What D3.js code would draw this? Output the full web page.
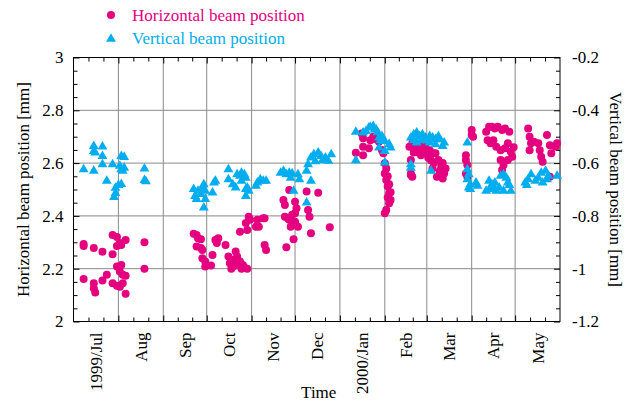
<!DOCTYPE html>
<html>
<head>
<meta charset="utf-8">
<script src="https://cdn.jsdelivr.net/npm/d3@7"></script>
<style>
  html, body { margin: 0; padding: 0; background: #fff; }
  svg { display: block; font-family: "Liberation Serif", "Times New Roman", serif; }
</style>
</head>
<body>
<svg id="chart" width="634" height="405"></svg>
<script>
// Horizontal beam position [mm], left axis: [date, value]
const horizontal = [
  ["1999-07-08",2.294],["1999-07-08",2.286],["1999-07-08",2.161],["1999-07-15",2.278],["1999-07-15",2.145],
  ["1999-07-15",2.126],["1999-07-16",2.110],["1999-07-21",2.264],["1999-07-21",2.155],["1999-07-24",2.177],
  ["1999-07-28",2.328],["1999-07-28",2.255],["1999-07-28",2.145],["1999-07-31",2.320],["1999-07-31",2.286],
  ["1999-07-31",2.208],["1999-07-31",2.135],["1999-08-02",2.297],["1999-08-02",2.189],["1999-08-02",2.132],
  ["1999-08-03",2.290],["1999-08-03",2.214],["1999-08-04",2.177],["1999-08-04",2.145],["1999-08-06",2.309],
  ["1999-08-06",2.173],["1999-08-06",2.105],["1999-08-19",2.300],["1999-08-19",2.200],
  ["1999-09-22",2.332],["1999-09-24",2.328],["1999-09-24",2.284],["1999-09-25",2.315],["1999-09-27",2.312],
  ["1999-09-27",2.278],["1999-09-28",2.271],["1999-09-28",2.240],["1999-09-30",2.227],["1999-09-30",2.208],
  ["1999-10-04",2.212],["1999-10-05",2.252],["1999-10-07",2.309],["1999-10-08",2.297],["1999-10-09",2.315],
  ["1999-10-14",2.290],["1999-10-16",2.246],["1999-10-17",2.221],["1999-10-18",2.200],["1999-10-19",2.233],
  ["1999-10-20",2.210],["1999-10-21",2.265],["1999-10-22",2.246],["1999-10-23",2.221],["1999-10-24",2.227],
  ["1999-10-24",2.340],["1999-10-25",2.200],["1999-10-26",2.214],["1999-10-27",2.205],["1999-10-28",2.373],
  ["1999-10-29",2.347],["1999-10-29",2.200],["1999-10-30",2.397],["1999-10-31",2.385],
  ["1999-11-04",2.359],["1999-11-05",2.385],["1999-11-06",2.359],["1999-11-09",2.391],["1999-11-10",2.391],
  ["1999-11-10",2.290],["1999-11-11",2.271],["1999-11-23",2.460],["1999-11-24",2.441],["1999-11-24",2.397],
  ["1999-11-25",2.281],["1999-11-26",2.391],["1999-11-27",2.385],["1999-11-27",2.498],["1999-11-28",2.359],
  ["1999-11-29",2.404],["1999-11-30",2.312],["1999-12-01",2.454],["1999-12-01",2.410],["1999-12-01",2.378],
  ["1999-12-02",2.429],["1999-12-03",2.359],["1999-12-09",2.492],["1999-12-10",2.422],["1999-12-11",2.397],
  ["1999-12-12",2.334],["1999-12-17",2.488],["1999-12-25",2.357],
  ["2000-01-12",2.639],["2000-01-16",2.712],["2000-01-17",2.694],["2000-01-17",2.662],["2000-01-17",2.630],
  ["2000-01-21",2.656],["2000-01-22",2.687],["2000-01-24",2.700],["2000-01-26",2.690],["2000-01-28",2.681],
  ["2000-01-30",2.650],["2000-01-31",2.637],["2000-02-01",2.599],["2000-02-01",2.561],["2000-02-02",2.536],
  ["2000-02-03",2.511],["2000-02-04",2.486],["2000-02-05",2.460],["2000-02-04",2.448],["2000-02-02",2.422],
  ["2000-02-01",2.410],["2000-02-02",2.580],["2000-02-03",2.550],["2000-02-04",2.520],["2000-02-05",2.490],
  ["2000-02-03",2.470],
  ["2000-02-18",2.662],["2000-02-19",2.612],["2000-02-19",2.561],["2000-02-19",2.555],["2000-02-20",2.675],
  ["2000-02-20",2.548],["2000-02-21",2.640],["2000-02-22",2.650],["2000-02-23",2.662],["2000-02-24",2.640],
  ["2000-02-25",2.668],["2000-02-26",2.630],["2000-02-27",2.649],["2000-02-28",2.640],["2000-02-29",2.662],
  ["2000-03-02",2.620],["2000-03-03",2.649],["2000-03-04",2.610],["2000-03-05",2.637],["2000-03-05",2.580],
  ["2000-03-06",2.600],["2000-03-07",2.637],["2000-03-08",2.548],["2000-03-09",2.612],["2000-03-10",2.570],
  ["2000-03-11",2.586],["2000-03-12",2.542],["2000-03-12",2.600],["2000-03-13",2.561],["2000-03-14",2.580],
  ["2000-03-28",2.630],["2000-03-28",2.612],["2000-03-29",2.593],["2000-03-28",2.561],["2000-03-29",2.548],
  ["2000-04-01",2.725],["2000-04-01",2.706],["2000-04-02",2.700],["2000-04-11",2.719],["2000-04-12",2.687],
  ["2000-04-13",2.738],["2000-04-14",2.675],["2000-04-15",2.738],["2000-04-16",2.687],["2000-04-17",2.731],
  ["2000-04-18",2.662],["2000-04-19",2.738],["2000-04-21",2.649],["2000-04-21",2.612],["2000-04-22",2.725],
  ["2000-04-23",2.593],["2000-04-22",2.574],["2000-04-24",2.656],["2000-04-24",2.731],["2000-04-26",2.675],
  ["2000-04-26",2.612],["2000-04-27",2.719],["2000-04-28",2.643],["2000-04-29",2.624],["2000-04-30",2.660],
  ["2000-05-10",2.731],["2000-05-11",2.700],["2000-05-12",2.675],["2000-05-11",2.649],["2000-05-14",2.681],
  ["2000-05-17",2.675],["2000-05-18",2.649],["2000-05-19",2.624],["2000-05-20",2.605],["2000-05-23",2.706],
  ["2000-05-25",2.668],["2000-05-26",2.637],["2000-05-25",2.548],["2000-05-29",2.662],["2000-05-30",2.675]
];

// Vertical beam position [mm], right axis: [date, value]
const vertical = [
  ["1999-07-08",-0.620],["1999-07-15",-0.626],["1999-07-15",-0.532],["1999-07-15",-0.551],["1999-07-16",-0.557],
  ["1999-07-21",-0.534],["1999-07-21",-0.570],["1999-07-21",-0.601],["1999-07-24",-0.664],["1999-07-28",-0.601],
  ["1999-07-29",-0.725],["1999-07-30",-0.710],["1999-07-30",-0.690],["1999-08-01",-0.680],["1999-08-03",-0.676],
  ["1999-08-03",-0.570],["1999-08-05",-0.574],["1999-08-03",-0.620],["1999-08-04",-0.626],["1999-08-05",-0.614],
  ["1999-08-02",-0.607],["1999-08-19",-0.617],["1999-08-19",-0.661],["1999-08-20",-0.666],
  ["1999-09-22",-0.695],["1999-09-23",-0.721],["1999-09-24",-0.733],["1999-09-25",-0.702],["1999-09-27",-0.714],
  ["1999-09-28",-0.689],["1999-09-29",-0.677],["1999-09-30",-0.702],["1999-09-30",-0.733],["1999-09-29",-0.765],
  ["1999-10-05",-0.708],["1999-10-06",-0.670],["1999-10-07",-0.664],["1999-10-16",-0.620],["1999-10-16",-0.658],
  ["1999-10-19",-0.677],["1999-10-21",-0.689],["1999-10-22",-0.639],["1999-10-24",-0.645],["1999-10-25",-0.664],
  ["1999-10-25",-0.633],["1999-10-27",-0.639],["1999-10-28",-0.695],["1999-10-28",-0.652],["1999-10-29",-0.689],
  ["1999-10-30",-0.702],["1999-10-28",-0.721],
  ["1999-11-04",-0.683],["1999-11-05",-0.670],["1999-11-07",-0.658],["1999-11-09",-0.664],["1999-11-11",-0.664],
  ["1999-11-21",-0.633],["1999-11-23",-0.626],["1999-11-25",-0.639],["1999-11-27",-0.633],["1999-11-28",-0.652],
  ["1999-11-29",-0.635],["1999-11-30",-0.702],["1999-12-03",-0.639],["1999-12-04",-0.658],
  ["1999-12-09",-0.626],["1999-12-09",-0.746],["1999-12-10",-0.601],["1999-12-12",-0.576],["1999-12-12",-0.664],
  ["1999-12-14",-0.563],["1999-12-15",-0.590],["1999-12-17",-0.557],["1999-12-19",-0.570],["1999-12-20",-0.585],
  ["1999-12-22",-0.576],["1999-12-24",-0.588],["1999-12-26",-0.563],
  ["2000-01-12",-0.478],["2000-01-12",-0.586],["2000-01-17",-0.481],["2000-01-19",-0.475],["2000-01-21",-0.462],
  ["2000-01-22",-0.460],["2000-01-24",-0.456],["2000-01-25",-0.470],["2000-01-26",-0.469],["2000-01-27",-0.480],
  ["2000-01-28",-0.500],["2000-01-28",-0.538],["2000-01-29",-0.510],["2000-01-30",-0.494],["2000-02-01",-0.513],
  ["2000-02-01",-0.551],["2000-02-01",-0.595],["2000-02-04",-0.525],["2000-02-05",-0.538],
  ["2000-02-19",-0.500],["2000-02-19",-0.601],["2000-02-19",-0.614],["2000-02-21",-0.488],["2000-02-21",-0.510],
  ["2000-02-23",-0.481],["2000-02-23",-0.519],["2000-02-25",-0.494],["2000-02-26",-0.510],["2000-02-27",-0.488],
  ["2000-02-29",-0.500],["2000-03-01",-0.510],["2000-03-03",-0.494],["2000-03-03",-0.519],["2000-03-04",-0.626],
  ["2000-03-05",-0.500],["2000-03-07",-0.506],["2000-03-07",-0.525],["2000-03-09",-0.495],["2000-03-10",-0.506],
  ["2000-03-12",-0.532],["2000-03-13",-0.519],
  ["2000-03-29",-0.519],["2000-03-29",-0.620],["2000-03-30",-0.639],["2000-03-29",-0.658],["2000-03-31",-0.677],
  ["2000-03-30",-0.689],["2000-03-31",-0.695],["2000-04-04",-0.670],["2000-04-05",-0.683],["2000-04-11",-0.702],
  ["2000-04-13",-0.664],["2000-04-14",-0.690],["2000-04-15",-0.677],["2000-04-16",-0.695],["2000-04-17",-0.670],
  ["2000-04-18",-0.702],["2000-04-20",-0.689],["2000-04-21",-0.645],["2000-04-23",-0.639],["2000-04-23",-0.702],
  ["2000-04-25",-0.652],["2000-04-26",-0.670],["2000-04-27",-0.680],["2000-04-28",-0.702],
  ["2000-05-08",-0.670],["2000-05-09",-0.680],["2000-05-10",-0.658],["2000-05-12",-0.639],["2000-05-15",-0.664],
  ["2000-05-17",-0.652],["2000-05-19",-0.633],["2000-05-20",-0.670],["2000-05-22",-0.626],["2000-05-23",-0.658],
  ["2000-05-24",-0.645],["2000-05-30",-0.645]
];

const monthLabels = ["1999/Jul","Aug","Sep","Oct","Nov","Dec","2000/Jan","Feb","Mar","Apr","May"];
const leftTicks = [2, 2.2, 2.4, 2.6, 2.8, 3];
const rightTicks = [-1.2, -1, -0.8, -0.6, -0.4, -0.2];
const legendLabels = ["Horizontal beam position", "Vertical beam position"];

const MAGENTA = "#e4007f";
const CYAN = "#00aeef";

const svg = d3.select("#chart");
const plot = { left: 73.5, right: 560, top: 57.5, bottom: 321.5 };

const parse = d3.utcParse("%Y-%m-%d");
const start = Date.UTC(1999, 6, 1), end = Date.UTC(2000, 5, 1);

const x = d3.scaleUtc().domain([start, end]).range([plot.left, plot.right]);
const yL = d3.scaleLinear().domain([2, 3]).range([plot.bottom, plot.top]);
const yR = d3.scaleLinear().domain([-1.2, -0.2]).range([plot.bottom, plot.top]);

const months = d3.utcMonth.range(new Date(start), new Date(end));
const monthEdges = d3.utcMonth.range(new Date(start), new Date(end + 1));
// three divisions per month for the minor ticks
const minorDates = [];
months.forEach((m, i) => {
  const next = monthEdges[i + 1];
  for (let k = 1; k < 3; k++) minorDates.push(new Date(+m + (next - m) * k / 3));
});
const midMonths = months.map((m, i) => new Date((+m + +monthEdges[i + 1]) / 2));
const minorY = d3.range(2, 3.0001, 0.05).map(v => +v.toFixed(2)).filter(v => !leftTicks.includes(v));
const minorYR = minorY.map(v => +(v - 3.2).toFixed(2));

// grid
const grid = svg.append("g").attr("stroke", "#8a8a8a").attr("stroke-width", 1);
grid.selectAll("line.gx").data(months.slice(1)).join("line")
  .attr("x1", d => x(d)).attr("x2", d => x(d))
  .attr("y1", plot.top).attr("y2", plot.bottom);
grid.selectAll("line.gy").data(leftTicks.slice(1, -1)).join("line")
  .attr("x1", plot.left).attr("x2", plot.right)
  .attr("y1", d => yL(d)).attr("y2", d => yL(d));

// axes with inward ticks
function styleAxis(g) {
  g.select(".domain").remove();
  g.selectAll(".tick line").attr("stroke", "#000");
  g.selectAll(".tick text").attr("fill", "#000").attr("font-size", 17)
    .attr("font-family", "Liberation Serif, Times New Roman, serif");
}
const hb = plot.bottom - plot.top, wb = plot.right - plot.left;

svg.append("g").attr("transform", `translate(${plot.left},0)`)
  .call(d3.axisLeft(yL).tickValues(leftTicks).tickSizeInner(-6).tickPadding(10).tickFormat(d => String(d)))
  .call(styleAxis);
svg.append("g").attr("transform", `translate(${plot.left},0)`)
  .call(d3.axisLeft(yL).tickValues(minorY).tickSizeInner(-4).tickFormat(""))
  .call(styleAxis);
svg.append("g").attr("transform", `translate(${plot.right},0)`)
  .call(d3.axisRight(yR).tickValues(rightTicks).tickSizeInner(-6).tickPadding(12).tickFormat(d => String(d)))
  .call(styleAxis);
svg.append("g").attr("transform", `translate(${plot.right},0)`)
  .call(d3.axisRight(yR).tickValues(minorYR).tickSizeInner(-4).tickFormat(""))
  .call(styleAxis);

svg.append("g").attr("transform", `translate(0,${plot.bottom})`)
  .call(d3.axisBottom(x).tickValues(months.slice(1)).tickSizeInner(-6).tickFormat(""))
  .call(styleAxis);
svg.append("g").attr("transform", `translate(0,${plot.bottom})`)
  .call(d3.axisBottom(x).tickValues(minorDates).tickSizeInner(-4).tickFormat(""))
  .call(styleAxis);
svg.append("g").attr("transform", `translate(0,${plot.top})`)
  .call(d3.axisTop(x).tickValues(months.slice(1)).tickSizeInner(-6).tickFormat(""))
  .call(styleAxis);
svg.append("g").attr("transform", `translate(0,${plot.top})`)
  .call(d3.axisTop(x).tickValues(minorDates).tickSizeInner(-4).tickFormat(""))
  .call(styleAxis);

// month labels, rotated, centred on each month
svg.append("g").selectAll("text").data(midMonths).join("text")
  .attr("transform", (d) => `translate(${x(d)},${plot.bottom + 11}) rotate(-90)`)
  .attr("text-anchor", "end").attr("dy", "0.35em")
  .attr("font-size", 17).attr("fill", "#000")
  .text((d, i) => monthLabels[i]);

// frame
svg.append("rect").attr("x", plot.left).attr("y", plot.top)
  .attr("width", wb).attr("height", hb)
  .attr("fill", "none").attr("stroke", "#000").attr("stroke-width", 1);

// points
const tri = d3.symbol().type(d3.symbolTriangle).size(42);
svg.append("g").selectAll("circle").data(horizontal).join("circle")
  .attr("cx", d => x(parse(d[0]))).attr("cy", d => yL(d[1])).attr("r", 4)
  .attr("fill", MAGENTA);
svg.append("g").selectAll("path").data(vertical).join("path")
  .attr("d", tri)
  .attr("transform", d => `translate(${x(parse(d[0]))},${yR(d[1]) + 1})`)
  .attr("fill", CYAN);

// axis titles
svg.append("text")
  .attr("transform", `translate(29,${(plot.top + plot.bottom) / 2}) rotate(-90)`)
  .attr("text-anchor", "middle").attr("font-size", 17).attr("fill", "#000")
  .text("Horizontal beam position [mm]");
svg.append("text")
  .attr("transform", `translate(610,${(plot.top + plot.bottom) / 2}) rotate(90)`)
  .attr("text-anchor", "middle").attr("font-size", 17).attr("fill", "#000")
  .text("Vertical beam position [mm]");
svg.append("text")
  .attr("x", (plot.left + plot.right) / 2 + 2).attr("y", 398)
  .attr("text-anchor", "middle").attr("font-size", 17).attr("fill", "#000")
  .text("Time");

// legend
const legend = svg.append("g");
legend.append("circle").attr("cx", 111).attr("cy", 15).attr("r", 4).attr("fill", MAGENTA);
legend.append("path").attr("d", tri).attr("transform", "translate(111,39)").attr("fill", CYAN);
legend.append("text").attr("x", 132).attr("y", 21).attr("font-size", 17).attr("fill", MAGENTA).text(legendLabels[0]);
legend.append("text").attr("x", 132).attr("y", 44).attr("font-size", 17).attr("fill", CYAN).text(legendLabels[1]);
</script>
</body>
</html>
